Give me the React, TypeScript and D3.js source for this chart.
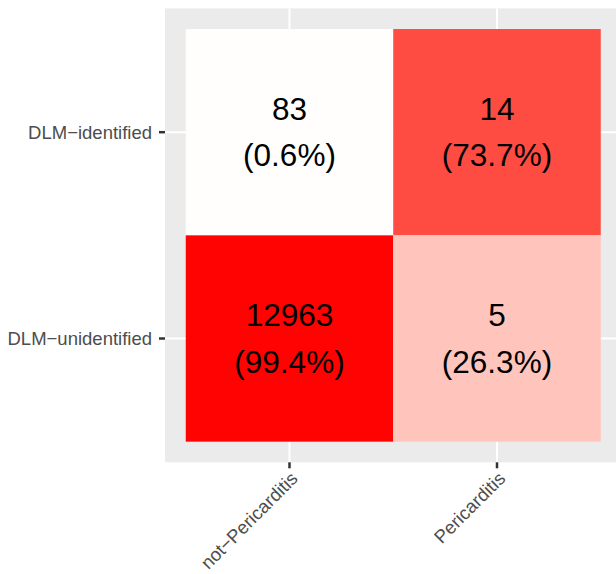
import React from "react";
import * as d3 from "d3";

const predicted = ["DLM−identified", "DLM−unidentified"];
const actual = ["not−Pericarditis", "Pericarditis"];
const counts = [
  [83, 14],
  [12963, 5],
];
const percents = [
  [0.6, 73.7],
  [99.4, 26.3],
];

const W = 616;
const H = 574;
const panel = { left: 165, right: 621.5, top: 8.4, bottom: 462.3 };

export default function App() {
  const x = d3
    .scaleBand<string>()
    .domain(actual)
    .range([panel.left, panel.right])
    .paddingInner(0)
    .paddingOuter(0.1);
  const y = d3
    .scaleBand<string>()
    .domain(predicted)
    .range([panel.top, panel.bottom])
    .paddingInner(0)
    .paddingOuter(0.1);
  const fill = d3
    .scaleLinear<string>()
    .domain([0, 50, 100])
    .range(["#ffffff", "#ff9080", "#ff0000"])
    .interpolate(d3.interpolateRgb);

  const font = "'Liberation Sans', Arial, Helvetica, sans-serif";
  const cells: { r: number; c: number }[] = [];
  predicted.forEach((_, r) => actual.forEach((__, c) => cells.push({ r, c })));

  return (
    <div style={{ position: "absolute", left: 0, top: 0 }}>
      <svg width={W} height={H} style={{ display: "block" }} fontFamily={font}>
        <rect x={0} y={0} width={W} height={H} fill="#ffffff" />
        <rect
          x={panel.left}
          y={panel.top}
          width={panel.right - panel.left}
          height={panel.bottom - panel.top}
          fill="#EBEBEB"
        />
        {actual.map((a) => (
          <line
            key={"gx" + a}
            x1={x(a)! + x.bandwidth() / 2}
            x2={x(a)! + x.bandwidth() / 2}
            y1={panel.top}
            y2={panel.bottom}
            stroke="#ffffff"
            strokeWidth={2}
          />
        ))}
        {predicted.map((p) => (
          <line
            key={"gy" + p}
            y1={y(p)! + y.bandwidth() / 2}
            y2={y(p)! + y.bandwidth() / 2}
            x1={panel.left}
            x2={panel.right}
            stroke="#ffffff"
            strokeWidth={2}
          />
        ))}
        {cells.map(({ r, c }) => (
          <rect
            key={"t" + r + c}
            x={x(actual[c])!}
            y={y(predicted[r])!}
            width={x.bandwidth()}
            height={y.bandwidth()}
            fill={fill(percents[r][c])}
          />
        ))}
        {cells.map(({ r, c }) => {
          const cx = x(actual[c])! + x.bandwidth() / 2;
          const cy = y(predicted[r])! + y.bandwidth() / 2;
          return (
            <g key={"l" + r + c} fontSize={31.5} fill="#000000" textAnchor="middle">
              <text x={cx} y={cy - 12.5}>{counts[r][c]}</text>
              <text x={cx} y={cy + 34}>{"(" + percents[r][c].toFixed(1) + "%)"}</text>
            </g>
          );
        })}
        {predicted.map((p) => {
          const cy = y(p)! + y.bandwidth() / 2;
          return (
            <g key={"ya" + p}>
              <line x1={panel.left - 6} x2={panel.left} y1={cy} y2={cy} stroke="#333333" strokeWidth={2.5} />
              <text
                x={panel.left - 13}
                y={cy}
                dy="0.35em"
                textAnchor="end"
                fontSize={18.5}
                fill="#4D4D4D"
              >
                {p}
              </text>
            </g>
          );
        })}
        {actual.map((a) => {
          const cx = x(a)! + x.bandwidth() / 2;
          return (
            <g key={"xa" + a}>
              <line x1={cx} x2={cx} y1={panel.bottom} y2={panel.bottom + 6} stroke="#333333" strokeWidth={2.5} />
              <text
                transform={`translate(${cx},${panel.bottom + 8}) rotate(-45)`}
                dy="0.72em"
                textAnchor="end"
                fontSize={18.5}
                fill="#4D4D4D"
              >
                {a}
              </text>
            </g>
          );
        })}
      </svg>
    </div>
  );
}
